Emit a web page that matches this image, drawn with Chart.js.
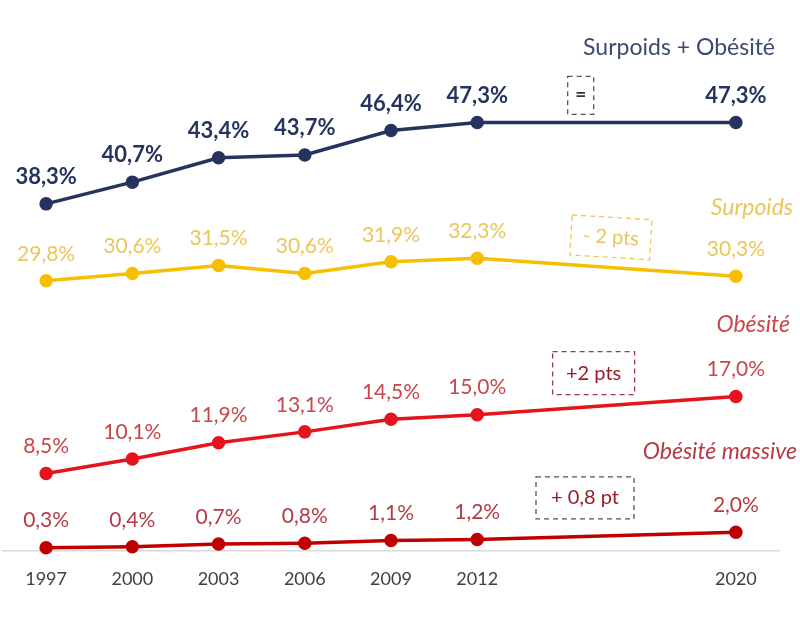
<!DOCTYPE html>
<html>
<head>
<meta charset="utf-8">
<script src="https://cdn.jsdelivr.net/npm/chart.js@4"></script>
<style>
  body { margin: 0; background: #fff; }
  #wrap { width: 800px; height: 617px; }
</style>
</head>
<body>
<div id="wrap"><canvas id="myChart"></canvas></div>
<script>
// years (2015 and 2018 are empty slots so 2020 sits further right)
const years = ['1997', '2000', '2003', '2006', '2009', '2012', '', '', '2020'];

const surpoidsObesite = [38.3, 40.7, 43.4, 43.7, 46.4, 47.3, null, null, 47.3];
const surpoids = [29.8, 30.6, 31.5, 30.6, 31.9, 32.3, null, null, 30.3];
const obesite = [8.5, 10.1, 11.9, 13.1, 14.5, 15.0, null, null, 17.0];
const obesiteMassive = [0.3, 0.4, 0.7, 0.8, 1.1, 1.2, null, null, 2.0];

const seriesNames = ['Surpoids + Obésité', 'Surpoids', 'Obésité', 'Obésité massive'];
const changeLabels = ['=', '- 2 pts', '+2 pts', '+ 0,8 pt'];

const FONT = 'Lato, "Open Sans", sans-serif';

// styles per series
const styles = [
  { line: '#26335f', label: '#26335f', name: '#3d4970', bold: true, size: 22 },
  { line: '#f6bf00', label: '#ebc65a', name: '#ebc65a', bold: false, size: 21 },
  { line: '#e5141c', label: '#c8474c', name: '#c8474c', bold: false, size: 21 },
  { line: '#c00000', label: '#b63a45', name: '#b63a45', bold: false, size: 21 }
];

function fmt(v) {
  return v.toFixed(1).replace('.', ',') + '%';
}

// draws value labels, series names and the dashed boxes
const labelPlugin = {
  id: 'labels',
  afterDatasetsDraw(chart) {
    const ctx = chart.ctx;
    const x = chart.scales.x;
    const y = chart.scales.y;
    ctx.save();
    chart.data.datasets.forEach((ds, i) => {
      const st = styles[i];
      const meta = chart.getDatasetMeta(i);
      ctx.fillStyle = st.label;
      ctx.font = (st.bold ? 'bold ' : '') + st.size + 'px ' + FONT;
      ctx.textAlign = 'center';
      ctx.textBaseline = 'middle';
      meta.data.forEach((pt, j) => {
        if (ds.data[j] == null) return;
        ctx.fillText(fmt(ds.data[j]), pt.x, pt.y - 27);
      });
    });

    // series names, right aligned
    const names = [
      { v: 47.3 + 8.3, right: 775, italic: false, size: 23 },
      { v: 30.3 + 7.6, right: 793, italic: true, size: 23 },
      { v: 17.0 + 8.0, right: 790, italic: true, size: 23 },
      { v: 2.0 + 8.9, right: 797, italic: true, size: 23 }
    ];
    names.forEach((n, i) => {
      ctx.fillStyle = styles[i].name;
      ctx.font = (n.italic ? 'italic ' : '') + n.size + 'px ' + FONT;
      ctx.textAlign = 'right';
      ctx.textBaseline = 'middle';
      ctx.fillText(seriesNames[i], n.right, y.getPixelForValue(n.v));
    });

    // dashed boxes with the change since 2012
    const boxes = [
      { idx: 6.2, v: 47.3 + 3.0, w: 26, h: 38, color: '#555', rot: 0, size: 19 },
      { idx: 6.55, v: 32.3 + 2.3, w: 80, h: 40, color: '#ebc65a', rot: 0.06, size: 20 },
      { idx: 6.35, v: 15.0 + 4.6, w: 82, h: 43, color: '#9b3a44', rot: 0, size: 20 },
      { idx: 6.25, v: 1.2 + 4.6, w: 98, h: 42, color: '#6b4a4e', rot: 0, size: 20 }
    ];
    const textColors = ['#333', '#ebc65a', '#9b1b27', '#9b1b27'];
    boxes.forEach((b, i) => {
      const cx = x.getPixelForValue(b.idx);
      const cy = y.getPixelForValue(b.v);
      ctx.save();
      ctx.translate(cx, cy);
      ctx.rotate(b.rot);
      ctx.setLineDash([5, 4]);
      ctx.lineWidth = 1.3;
      ctx.strokeStyle = b.color;
      ctx.strokeRect(-b.w / 2, -b.h / 2, b.w, b.h);
      ctx.setLineDash([]);
      ctx.fillStyle = textColors[i];
      ctx.font = (i === 0 ? 'bold ' : '') + b.size + 'px ' + FONT;
      ctx.textAlign = 'center';
      ctx.textBaseline = 'middle';
      ctx.fillText(changeLabels[i], 0, 0);
      ctx.restore();
    });
    ctx.restore();
  }
};

const allSeries = [surpoidsObesite, surpoids, obesite, obesiteMassive];

const ctx = document.getElementById('myChart');

let lineChart = new Chart(ctx, {
  type: 'line',
  data: {
    labels: years,
    datasets: allSeries.map((d, i) => ({
      label: seriesNames[i],
      data: d,
      borderColor: styles[i].line,
      backgroundColor: styles[i].line,
      borderWidth: 3.5,
      pointRadius: 5,
      pointHoverRadius: 5,
      spanGaps: true,
      tension: 0,
      clip: false
    }))
  },
  options: {
    responsive: true,
    maintainAspectRatio: false,
    animation: false,
    layout: { autoPadding: false, padding: { top: 98, left: 3, right: 21, bottom: 17 } },
    plugins: {
      legend: { display: false },
      tooltip: { enabled: false }
    },
    scales: {
      x: {
        offset: true,
        grid: { display: false },
        border: { display: true, color: '#d9d9d9', width: 1.5 },
        ticks: {
          color: '#404040',
          padding: 10,
          autoSkip: false,
          maxRotation: 0,
          font: { family: FONT, size: 18 }
        }
      },
      y: {
        display: false,
        min: 0,
        max: 50
      }
    }
  },
  plugins: [labelPlugin]
});
</script>
</body>
</html>
